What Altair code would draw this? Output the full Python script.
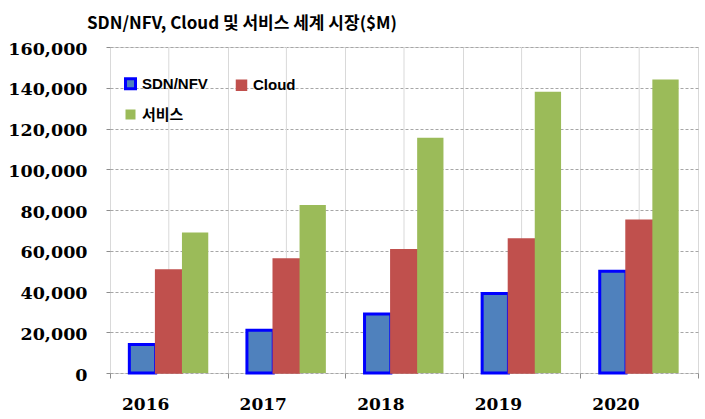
import altair as alt
import pandas as pd

years = ["2016", "2017", "2018", "2019", "2020"]
series = ["SDN/NFV", "Cloud", "서비스"]
legend_order = ["SDN/NFV", "서비스", "Cloud"]
sdn = [14000, 21000, 29000, 39000, 50000]
cloud = [50500, 56000, 60500, 65800, 75000]
svc = [69000, 82500, 115500, 138000, 144000]
fill_colors = ["#4F81BD", "#C0504D", "#9BBB59"]
stroke_colors = ["#0000FF", "#C0504D", "#9BBB59"]
y_ticks = [0, 20000, 40000, 60000, 80000, 100000, 120000, 140000, 160000]

rows = []
for i, yr in enumerate(years):
    for s, vals in zip(series, [sdn, cloud, svc]):
        rows.append({"year": yr, "series": s, "value": vals[i]})
df = pd.DataFrame(rows)
grid_df = pd.DataFrame({"year": years})

x_scale = alt.Scale(domain=years, paddingInner=0, paddingOuter=0)

legend = alt.Legend(
    title=None, orient="none", legendX=13, legendY=29, columns=2, values=legend_order,
    columnPadding=25, rowPadding=12, labelFont="Liberation Sans, Noto Sans CJK KR",
    labelFontWeight="bold", labelFontSize=15, labelColor="#000000",
    symbolType="square", symbolSize=100, symbolStrokeWidth=2, labelOffset=4,
)

center_grid = alt.Chart(grid_df).mark_rule(color="#D9D9D9", strokeWidth=1).encode(
    x=alt.X("year:N", scale=x_scale)
)

bars = alt.Chart(df).mark_bar().encode(
    x=alt.X("year:N", scale=x_scale, axis=alt.Axis(
        title=None, labelAngle=0, tickBand="extent", grid=True, gridColor="#D9D9D9",
        domain=False, ticks=True, tickSize=5, tickColor="#8C8C8C",
        labelFont="DejaVu Serif", labelFontWeight="bold", labelFontSize=17,
        labelColor="#000000", labelPadding=26)),
    xOffset=alt.XOffset("series:N", scale=alt.Scale(domain=series, paddingOuter=0.735, paddingInner=0)),
    y=alt.Y("value:Q", scale=alt.Scale(domain=[0, 160000], nice=False), axis=alt.Axis(
        title=None, values=y_ticks, format=",.0f", domain=False, tickSize=4, tickColor="#8C8C8C",
        grid=True, gridColor="#A6A6A6", gridDash=[3, 2],
        labelFont="DejaVu Serif", labelFontWeight="bold", labelFontSize=17.5,
        labelColor="#000000", labelPadding=19, labelFlush=False, labelOffset=2)),
    fill=alt.Fill("series:N", scale=alt.Scale(domain=series, range=fill_colors), legend=legend),
    stroke=alt.Stroke("series:N", scale=alt.Scale(domain=series, range=stroke_colors), legend=legend),
    strokeWidth=alt.StrokeWidth("series:N", scale=alt.Scale(domain=series, range=[3, 0, 0]), legend=None),
)

chart = alt.layer(center_grid, bars).properties(
    width=588, height=326,
    title=alt.TitleParams(
        "SDN/NFV, Cloud 및 서비스 세계 시장($M)", anchor="start", frame="group", dx=-23, offset=7,
        font="Noto Sans CJK KR", fontSize=17, fontWeight="bold", color="#000000"),
    autosize=alt.AutoSizeParams(type="none"),
    padding={"left": 110, "top": 47, "right": 7, "bottom": 46},
).configure_view(stroke="#B4B4B4", strokeWidth=3).configure(background="#FFFFFF")

chart.save("out.html", embed_options={"renderer": "svg", "actions": False})
